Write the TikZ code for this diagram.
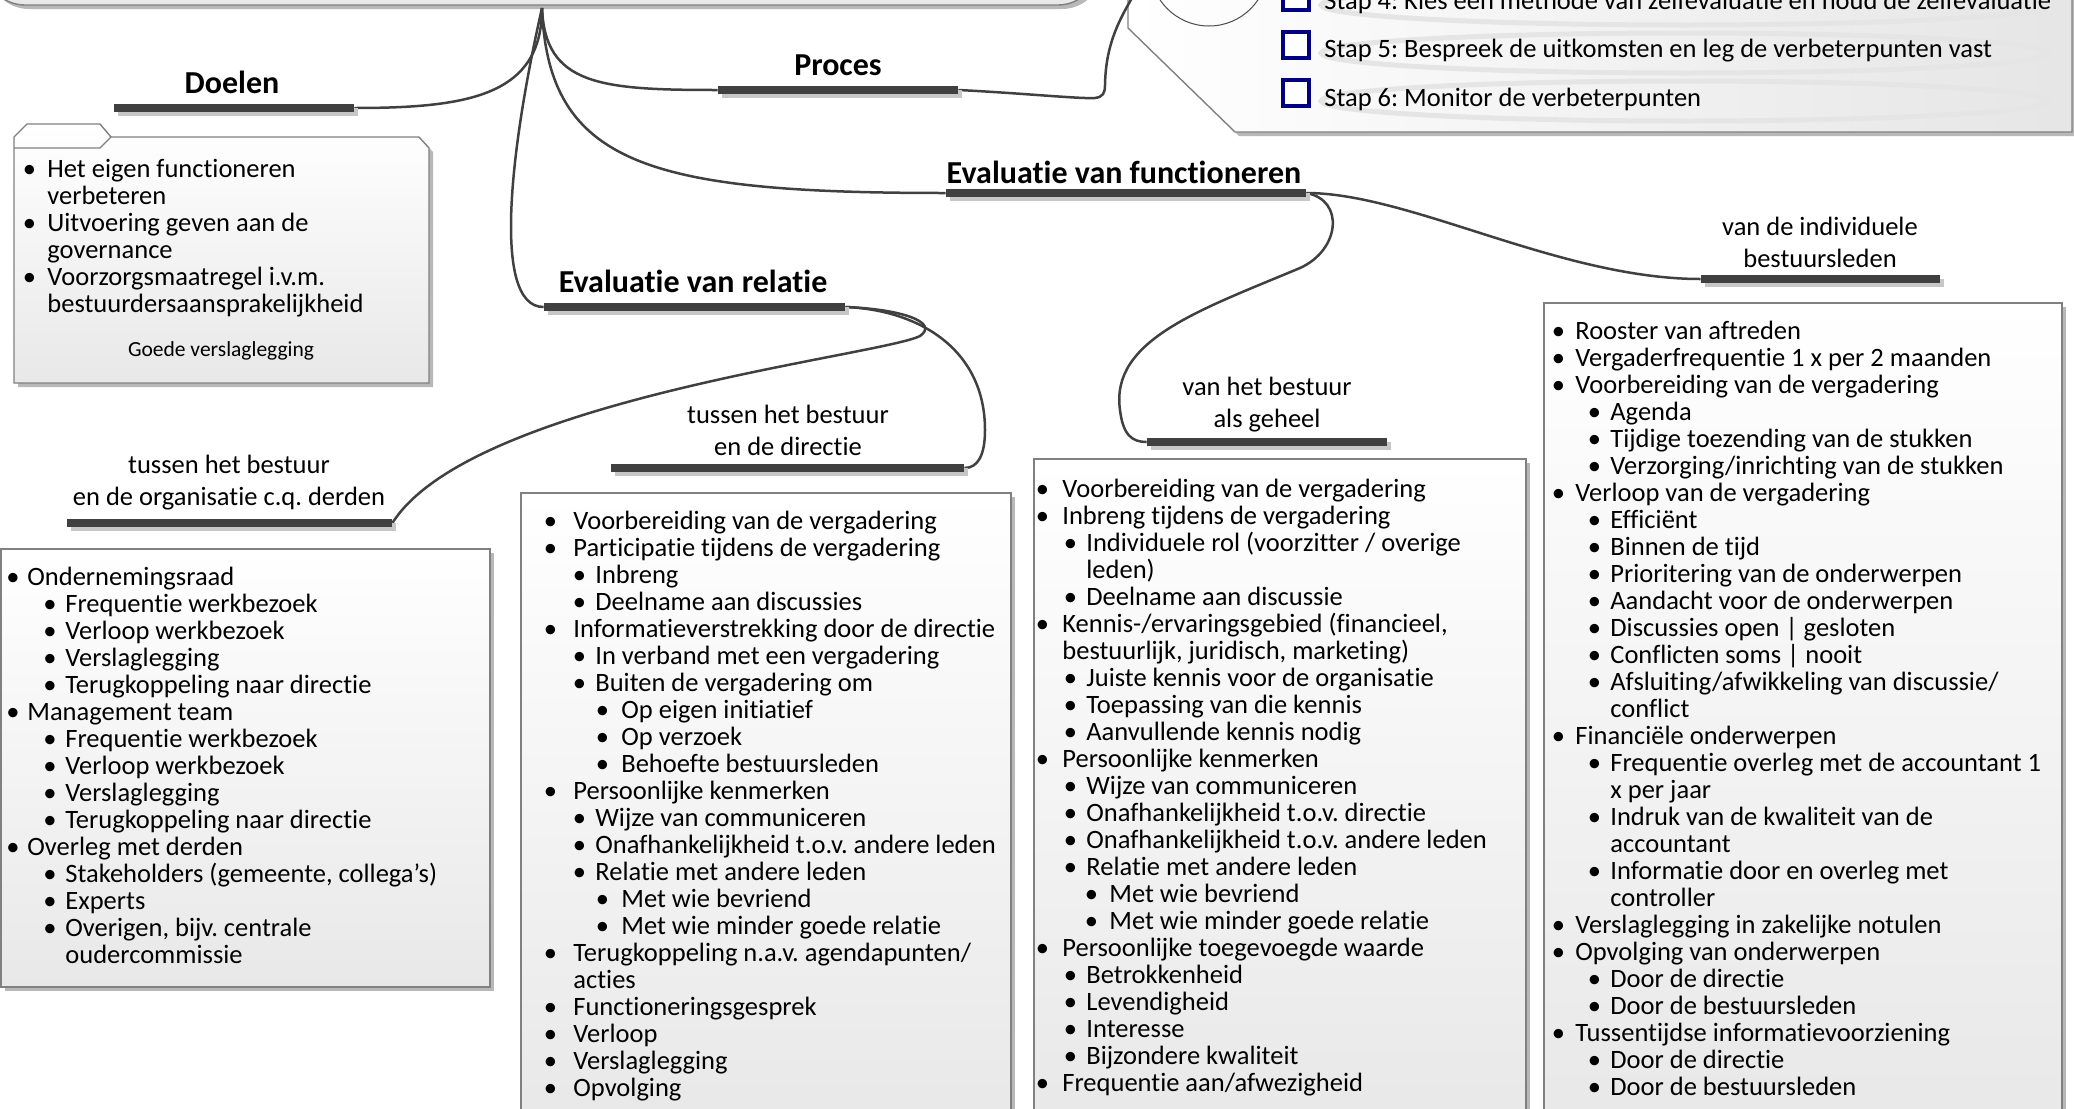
\documentclass[tikz,border=0pt]{standalone}
\usepackage{fontspec}
\setmainfont{Carlito}[Ligatures={NoCommon}]
\frenchspacing
\usetikzlibrary{shadows}
\pgfdeclarelayer{bg}
\pgfsetlayers{bg,main}
\newdimen\pxu \pxu=0.5pt
\newcommand\bu{\makebox[0pt]{•}}
\newcommand\bl[3]{\hspace*{#1\pxu}\bu\hspace*{\dimexpr#2\pxu-#1\pxu\relax}#3}
\newcommand\ct[2]{\hspace*{#2\pxu}#1}
\newcommand\fl{\rule{0pt}{12pt}}
\newcommand\lstfont{\fontsize{13.25}{13.5}\selectfont\lineskiplimit=-20pt\relax}
\newcommand\doeA[1]{\bl{0}{18}{#1}}
\newcommand\orgA[1]{\bl{0}{14.5}{#1}}
\newcommand\orgB[1]{\bl{37}{52.5}{#1}}
\newcommand\dirA[1]{\bl{0}{23}{#1}}
\newcommand\dirB[1]{\bl{29}{45}{#1}}
\newcommand\dirC[1]{\bl{52}{71}{#1}}
\newcommand\gehA[1]{\bl{0}{20}{#1}}
\newcommand\gehB[1]{\bl{28}{44}{#1}}
\newcommand\gehC[1]{\bl{49}{67}{#1}}
\newcommand\indA[1]{\bl{0}{17}{#1}}
\newcommand\indB[1]{\bl{36}{52}{#1}}
\definecolor{bardark}{HTML}{404040}
\definecolor{navyb}{HTML}{000080}
\begin{document}
\begin{tikzpicture}[x=0.5pt,y=-0.5pt,
  bar/.style={rectangle, fill=bardark, inner sep=0pt, minimum height=4pt,
    drop shadow={fill=black!22, opacity=1, shadow xshift=2pt, shadow yshift=-2pt}},
  conn/.style={draw=bardark, line width=1.25pt},
  boxs/.style={draw=black!50, line width=0.7pt, top color=white, bottom color=black!9,
    drop shadow={fill=black!28, opacity=1, shadow xshift=2pt, shadow yshift=-2pt}},
  lst/.style={anchor=north west, inner sep=0pt, align=left, font=\lstfont},
  lab/.style={anchor=base, inner sep=0pt, font=\fontsize{13.25}{16}\selectfont},
  head/.style={anchor=base, inner sep=0pt, font=\bfseries\fontsize{16}{19}\selectfont},
  stap/.style={anchor=base west, inner sep=0pt, font=\fontsize{13.25}{16}\selectfont},
  chk/.style={draw=navyb, line width=2pt, fill=white, minimum size=13pt, inner sep=0pt},
  swoosh/.style={draw=black!10, line width=2.5pt}]
\useasboundingbox (0,0) rectangle (2074,1109);
\clip (0,0) rectangle (2074,1109);

% bars and anchor points
\coordinate (root) at (542,8);
\node[bar, minimum width=120pt] (bDoelen) at (234,108) {};
\node[bar, minimum width=120pt] (bProces) at (838,90) {};
\node[bar, minimum width=180pt] (bFunc) at (1126,193) {};
\node[bar, minimum width=150.5pt] (bRel) at (694.5,307) {};
\node[bar, minimum width=162.5pt] (bOrg) at (229.5,523) {};
\node[bar, minimum width=176.5pt] (bDir) at (787.5,468) {};
\node[bar, minimum width=120pt] (bGeh) at (1267,442) {};
\node[bar, minimum width=119.5pt] (bInd) at (1820.5,279) {};

\begin{pgfonlayer}{bg}
% root box
\path[boxs, rounded corners=20pt, top color=black!4, bottom color=black!9] (-15,-80) rectangle (1098,5);
% top right box
\path[boxs, left color=white, right color=black!10] (1128,-10) -- (1128,28) -- (1235,132) -- (2072,132) -- (2072,-10) -- cycle;
\draw[swoosh] (1685,5) ellipse [x radius=182pt, y radius=10pt];
\draw[swoosh] (1685,53) ellipse [x radius=182pt, y radius=10pt];
\draw[swoosh] (1685,101) ellipse [x radius=182pt, y radius=10pt];
% doelen box
\path[boxs] (14,137) -- (27,124) -- (100,124) -- (111,137) -- (419,137) -- (429,148) -- (429,383) -- (14,383) -- cycle;
\draw[draw=black!50, line width=0.7pt] (14,148) -- (100,148) -- (111,137);
% list boxes
\path[boxs] (1,549) rectangle (490,987);
\path[boxs] (521,493) rectangle (1011,1125);
\path[boxs] (1034,459) rectangle (1526,1125);
\path[boxs] (1544,303) rectangle (2062,1125);
\end{pgfonlayer}

\node[circle, draw=black!70, line width=0.5pt, minimum size=59pt, inner sep=0pt] (circ) at (1209,-33) {};

\begin{pgfonlayer}{bg}
\draw[conn] (root) .. controls (542,95) and (470,108) .. (bDoelen.east);
\draw[conn] (root) .. controls (545,85) and (600,90) .. (bProces.west);
\draw[conn] (root) .. controls (548,165) and (650,193) .. (bFunc.west);
\draw[conn] (root) .. controls (512,140) and (490,307) .. (bRel.west);
\draw[conn] (bProces.east) .. controls (1020,93) and (1080,99) .. (1095,98)
  .. controls (1103,97) and (1105,93) .. (1105,85)
  .. controls (1106,30) and (1130,5) .. (circ.west);
\draw[conn] (bRel.east) .. controls (900,309) and (940,322) .. (920,336)
  .. controls (880,356) and (470,400) .. (bOrg.east);
\draw[conn] (bRel.east) .. controls (920,310) and (985,350) .. (985,430)
  .. controls (985,455) and (978,468) .. (bDir.east);
\draw[conn] (bFunc.east) .. controls (1410,193) and (1560,279) .. (bInd.west);
\draw[conn] (bFunc.east) .. controls (1345,200) and (1340,250) .. (1300,268)
  .. controls (1200,310) and (1110,340) .. (1120,410)
  .. controls (1123,435) and (1132,442) .. (bGeh.west);
\end{pgfonlayer}

% headings
\node[head] (tDoelen) at (232,93) {Doelen};
\node[head] (tProces) at (838,75) {Proces};
\node[head] (tFunc) at (1124,183) {Evaluatie van functioneren};
\node[head] (tRel) at (693,292) {Evaluatie van relatie};

% sub labels
\node[lab] (lOrgA) at (229,473) {tussen het bestuur};
\node[lab] (lOrgB) at (229,505) {en de organisatie c.q. derden};
\node[lab] (lDirA) at (788,423) {tussen het bestuur};
\node[lab] (lDirB) at (788,455) {en de directie};
\node[lab] (lGehA) at (1267,395) {van het bestuur};
\node[lab] (lGehB) at (1267,427) {als geheel};
\node[lab] (lIndA) at (1820,235) {van de individuele};
\node[lab] (lIndB) at (1820,267) {bestuursleden};

% steps
\node[chk] (c4) at (1296,-3) {};
\node[chk] (c5) at (1296,45) {};
\node[chk] (c6) at (1296,93) {};
\node[stap] (s4) at (1324,9) {Stap 4: Kies een methode van zelfevaluatie en houd de zelfevaluatie};
\node[stap] (s5) at (1324,57.5) {Stap 5: Bespreek de uitkomsten en leg de verbeterpunten vast};
\node[stap] (s6) at (1324,106) {Stap 6: Monitor de verbeterpunten};

% lists
\node[lst] (doelenList) at (29,153) {\fl\doeA{Het eigen functioneren}\\
\ct{verbeteren}{18}\\
\doeA{Uitvoering geven aan de}\\
\ct{governance}{18}\\
\doeA{Voorzorgsmaatregel i.v.m.}\\
\ct{bestuurdersaansprakelijkheid}{18}};
\node[anchor=base, inner sep=0pt, font=\fontsize{10.75}{13}\selectfont] (goede) at (221,356) {Goede verslaglegging};

\node[lst] (orgList) at (12.5,561) {\fl\orgA{Ondernemingsraad}\\
\orgB{Frequentie werkbezoek}\\
\orgB{Verloop werkbezoek}\\
\orgB{Verslaglegging}\\
\orgB{Terugkoppeling naar directie}\\
\orgA{Management team}\\
\orgB{Frequentie werkbezoek}\\
\orgB{Verloop werkbezoek}\\
\orgB{Verslaglegging}\\
\orgB{Terugkoppeling naar directie}\\
\orgA{Overleg met derden}\\
\orgB{Stakeholders (gemeente, collega’s)}\\
\orgB{Experts}\\
\orgB{Overigen, bijv. centrale}\\
\ct{oudercommissie}{52.5}};

\node[lst] (dirList) at (550,505) {\fl\dirA{Voorbereiding van de vergadering}\\
\dirA{Participatie tijdens de vergadering}\\
\dirB{Inbreng}\\
\dirB{Deelname aan discussies}\\
\dirA{Informatieverstrekking door de directie}\\
\dirB{In verband met een vergadering}\\
\dirB{Buiten de vergadering om}\\
\dirC{Op eigen initiatief}\\
\dirC{Op verzoek}\\
\dirC{Behoefte bestuursleden}\\
\dirA{Persoonlijke kenmerken}\\
\dirB{Wijze van communiceren}\\
\dirB{Onafhankelijkheid t.o.v. andere leden}\\
\dirB{Relatie met andere leden}\\
\dirC{Met wie bevriend}\\
\dirC{Met wie minder goede relatie}\\
\dirA{Terugkoppeling n.a.v. agendapunten/}\\
\ct{acties}{23}\\
\dirA{Functioneringsgesprek}\\
\dirA{Verloop}\\
\dirA{Verslaglegging}\\
\dirA{Opvolging}};

\node[lst] (gehList) at (1042,473) {\fl\gehA{Voorbereiding van de vergadering}\\
\gehA{Inbreng tijdens de vergadering}\\
\gehB{Individuele rol (voorzitter / overige}\\
\ct{leden)}{44}\\
\gehB{Deelname aan discussie}\\
\gehA{Kennis-/ervaringsgebied (financieel,}\\
\ct{bestuurlijk, juridisch, marketing)}{20}\\
\gehB{Juiste kennis voor de organisatie}\\
\gehB{Toepassing van die kennis}\\
\gehB{Aanvullende kennis nodig}\\
\gehA{Persoonlijke kenmerken}\\
\gehB{Wijze van communiceren}\\
\gehB{Onafhankelijkheid t.o.v. directie}\\
\gehB{Onafhankelijkheid t.o.v. andere leden}\\
\gehB{Relatie met andere leden}\\
\gehC{Met wie bevriend}\\
\gehC{Met wie minder goede relatie}\\
\gehA{Persoonlijke toegevoegde waarde}\\
\gehB{Betrokkenheid}\\
\gehB{Levendigheid}\\
\gehB{Interesse}\\
\gehB{Bijzondere kwaliteit}\\
\gehA{Frequentie aan/afwezigheid}};

\node[lst] (indList) at (1558,315) {\fl\indA{Rooster van aftreden}\\
\indA{Vergaderfrequentie 1 x per 2 maanden}\\
\indA{Voorbereiding van de vergadering}\\
\indB{Agenda}\\
\indB{Tijdige toezending van de stukken}\\
\indB{Verzorging/inrichting van de stukken}\\
\indA{Verloop van de vergadering}\\
\indB{Efficiënt}\\
\indB{Binnen de tijd}\\
\indB{Prioritering van de onderwerpen}\\
\indB{Aandacht voor de onderwerpen}\\
\indB{Discussies open | gesloten}\\
\indB{Conflicten soms | nooit}\\
\indB{Afsluiting/afwikkeling van discussie/}\\
\ct{conflict}{52}\\
\indA{Financiële onderwerpen}\\
\indB{Frequentie overleg met de accountant 1}\\
\ct{x per jaar}{52}\\
\indB{Indruk van de kwaliteit van de}\\
\ct{accountant}{52}\\
\indB{Informatie door en overleg met}\\
\ct{controller}{52}\\
\indA{Verslaglegging in zakelijke notulen}\\
\indA{Opvolging van onderwerpen}\\
\indB{Door de directie}\\
\indB{Door de bestuursleden}\\
\indA{Tussentijdse informatievoorziening}\\
\indB{Door de directie}\\
\indB{Door de bestuursleden}};
\end{tikzpicture}
\end{document}
